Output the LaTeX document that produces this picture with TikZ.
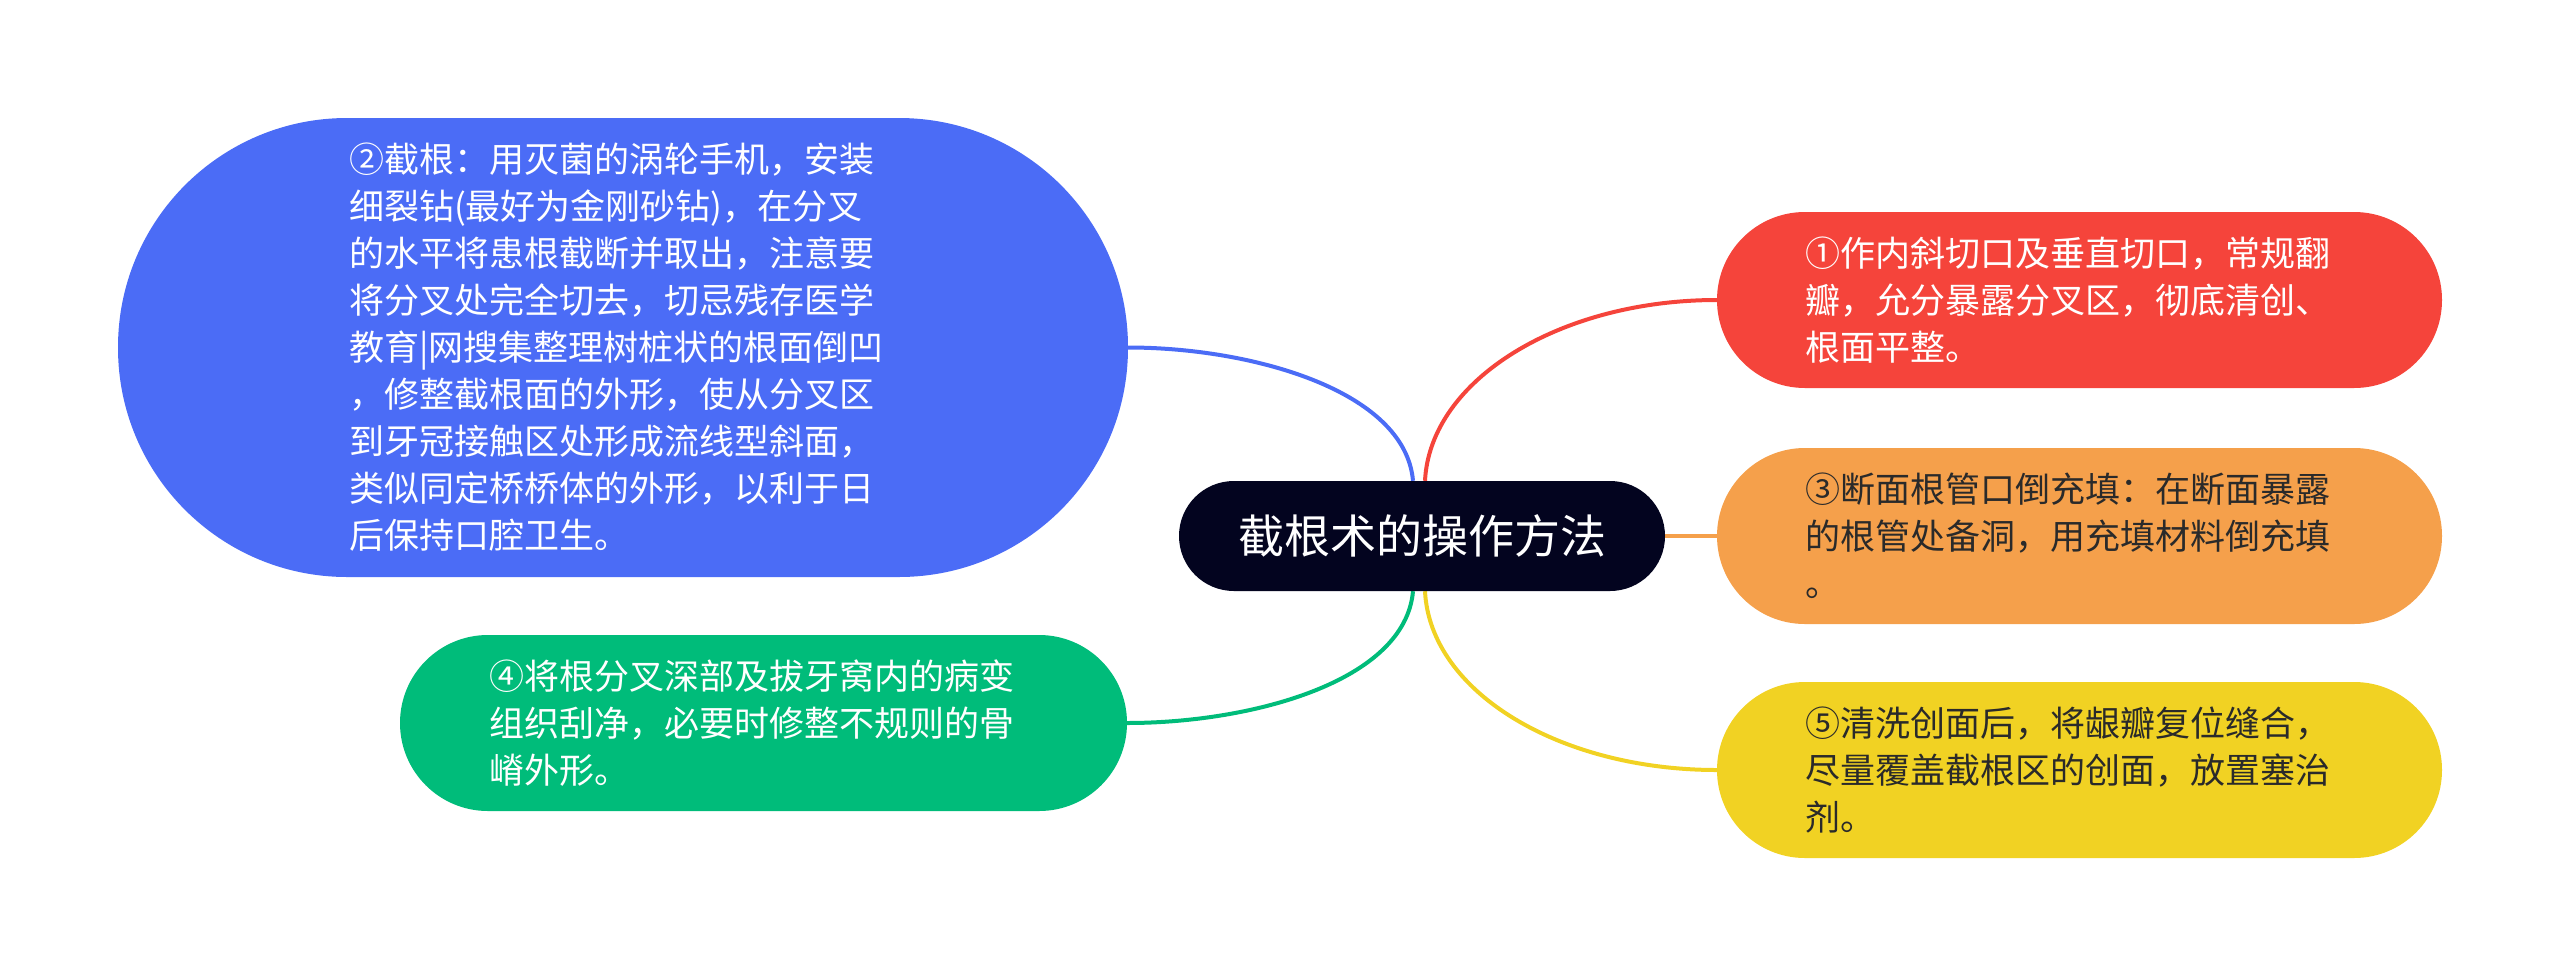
\documentclass[tikz,border=0pt]{standalone}
\usepackage{fontspec}
\setmainfont{Noto Sans CJK SC}
\usetikzlibrary{backgrounds}
\definecolor{cblue}{HTML}{4B6CF6}
\definecolor{cred}{HTML}{F5443B}
\definecolor{corange}{HTML}{F5A04B}
\definecolor{cyellow}{HTML}{F1D223}
\definecolor{cgreen}{HTML}{00BC7A}
\definecolor{cdark}{HTML}{03041F}
\definecolor{ctext}{HTML}{2A2A2A}
\tikzset{
  bubble/.style={rectangle, inner sep=0pt, align=left, text width=548pt,
    font=\fontsize{35pt}{47pt}\selectfont},
  hub/.style={rectangle, inner sep=0pt, fill=cdark, text=white,
    minimum width=486pt, minimum height=110pt, rounded corners=54.9pt,
    font=\fontsize{46pt}{52pt}\selectfont},
  link/.style={line width=4pt},
}
\begin{document}
\begin{tikzpicture}[x=1pt,y=-1pt]
\useasboundingbox (0,0) rectangle (2560,978);

\node[hub] (c) at (1422,536) {截根术的操作方法};

\node[bubble, fill=cblue, text=white, minimum width=1010pt, minimum height=459pt,
  rounded corners=229pt] (n2) at (623,347.5) {②截根：用灭菌的涡轮手机，安装\\
细裂钻(最好为金刚砂钻)，在分叉\\
的水平将患根截断并取出，注意要\\
将分叉处完全切去，切忌残存医学\\
教育|网搜集整理树桩状的根面倒凹\\
，修整截根面的外形，使从分叉区\\
到牙冠接触区处形成流线型斜面，\\
类似同定桥桥体的外形，以利于日\\
后保持口腔卫生。};

\node[bubble, fill=cgreen, text=white, minimum width=727pt, minimum height=176pt,
  rounded corners=87.9pt] (n4) at (763.5,723) {④将根分叉深部及拔牙窝内的病变\\
组织刮净，必要时修整不规则的骨\\
嵴外形。};

\node[bubble, fill=cred, text=white, minimum width=725pt, minimum height=176pt,
  rounded corners=87.9pt] (n1) at (2079.5,300) {①作内斜切口及垂直切口，常规翻\\
瓣，允分暴露分叉区，彻底清创、\\
根面平整。};

\node[bubble, fill=corange, text=ctext, minimum width=725pt, minimum height=176pt,
  rounded corners=87.9pt] (n3) at (2079.5,536) {③断面根管口倒充填：在断面暴露\\
的根管处备洞，用充填材料倒充填\\
。};

\node[bubble, fill=cyellow, text=ctext, minimum width=725pt, minimum height=176pt,
  rounded corners=87.9pt] (n5) at (2079.5,770) {⑤清洗创面后，将龈瓣复位缝合，\\
尽量覆盖截根区的创面，放置塞治\\
剂。};

\begin{scope}[on background layer]
\draw[link, cblue] ([xshift=-9pt]c.north) .. controls ([xshift=-17pt,yshift=91pt]c.north) and (1250,347.5) .. (n2.east);
\draw[link, cred] ([xshift=3pt]c.north) .. controls ([xshift=8pt,yshift=101pt]c.north) and (1560,300) .. (n1.west);
\draw[link, corange] (c.east) -- (n3.west);
\draw[link, cgreen] ([xshift=-9pt]c.south) .. controls ([xshift=-17pt,yshift=-91pt]c.south) and (1250,723) .. (n4.east);
\draw[link, cyellow] ([xshift=3pt]c.south) .. controls ([xshift=8pt,yshift=-101pt]c.south) and (1560,770) .. (n5.west);
\end{scope}
\end{tikzpicture}
\end{document}
